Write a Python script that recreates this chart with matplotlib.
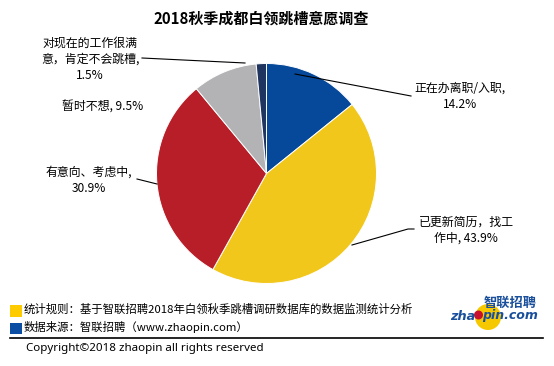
import numpy as np
import matplotlib.pyplot as plt
from matplotlib.patches import Rectangle, Circle

plt.rcParams['font.family'] = ['Noto Sans CJK SC', 'DejaVu Sans']

# data
labels = ["正在办离职/入职,\n14.2%", "已更新简历，找工\n作中, 43.9%", "有意向、考虑中,\n30.9%",
          "暂时不想, 9.5%", "对现在的工作很满\n意，肯定不会跳槽,\n1.5%"]
values = [14.2, 43.9, 30.9, 9.5, 1.5]
colors = ["#06489a", "#f2c71c", "#b81e27", "#b3b3b5", "#1f355f"]
title = "2018秋季成都白领跳槽意愿调查"
note1 = "统计规则：基于智联招聘2018年白领秋季跳槽调研数据库的数据监测统计分析"
note2 = "数据来源：智联招聘（www.zhaopin.com）"
copyright = "Copyright©2018 zhaopin all rights reserved"

W, H = 554, 366
fig = plt.figure(figsize=(W/100, H/100), dpi=100)
ax = fig.add_axes([0, 0, 1, 1])

def fy(y):
    # pixel row (from top) -> data y
    return H - y

cx, cy, r = 266.5, 173.5, 110
ax.pie(values, colors=colors, startangle=90, counterclock=False,
       center=(cx, fy(cy)), radius=r, frame=True,
       wedgeprops=dict(edgecolor="white", linewidth=0.7))
ax.set_xlim(0, W)
ax.set_ylim(0, H)
ax.set_aspect("auto")
ax.axis("off")

ax.text(261.5, fy(19), title, ha="center", va="center", fontsize=10.8, fontweight="bold")

# label positions and leader lines (pixel coords, y from top)
lab_pos = [(460, 96), (466, 230), (89, 180), (103, 107), (90, 59)]
leaders = [[(295, 74), (411, 96)],
           [(352, 245), (408, 229), (414, 229)],
           [(137, 179), (157, 184)],
           None,
           [(142, 58), (245, 63)]]
for lab, (x, y), ld in zip(labels, lab_pos, leaders):
    ax.text(x, fy(y), lab, ha="center", va="center", fontsize=8.6, linespacing=1.32)
    if ld:
        xs = [p[0] for p in ld]
        ys = [fy(p[1]) for p in ld]
        ax.plot(xs, ys, color="black", lw=0.8)

# notes
ax.add_patch(Rectangle((10, fy(317)), 12, 12, color="#fecb00", lw=0))
ax.add_patch(Rectangle((10, fy(334)), 12, 11, color="#0b4da2", lw=0))
ax.text(24, fy(309), note1, ha="left", va="center", fontsize=8.2)
ax.text(24, fy(327), note2, ha="left", va="center", fontsize=8.2)
ax.plot([10, 543], [fy(338), fy(338)], color="black", lw=1.2)
ax.text(26, fy(349), copyright, ha="left", va="center", fontsize=8.3,
        family=["Noto Sans", "DejaVu Sans"])

# logo
ax.add_patch(Circle((488, fy(317)), 13, color="#f5c800", lw=0))
ax.add_patch(Circle((478.5, fy(315)), 4.5, color="#c8102e", lw=0))
ax.text(510, fy(303), "智联招聘", ha="center", va="center", fontsize=9.5,
        fontweight="bold", style="italic", color="#1a4f9c")
ax.text(475, fy(316), "zha", ha="right", va="center", fontsize=9.3,
        fontweight="bold", style="italic", color="#1a4f9c", family=["DejaVu Sans"])
ax.text(482, fy(316), "pin.com", ha="left", va="center", fontsize=9,
        fontweight="bold", style="italic", color="#1a4f9c", family=["DejaVu Sans"])

plt.savefig("out.png", dpi=100)
